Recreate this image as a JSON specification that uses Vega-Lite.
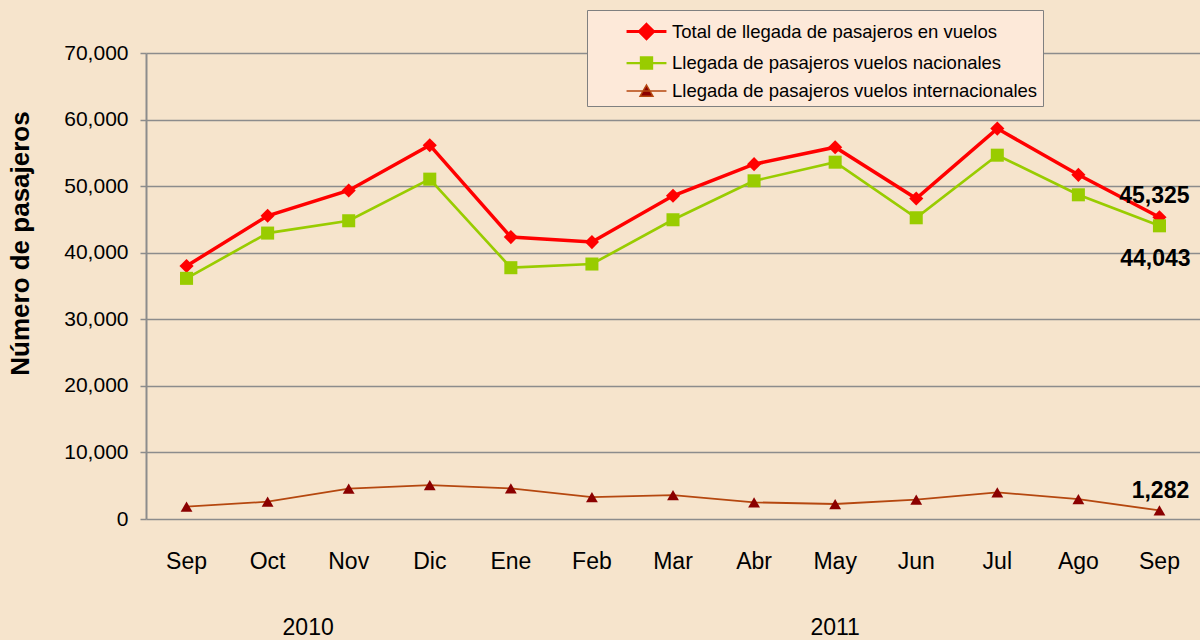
{
  "$schema": "https://vega.github.io/schema/vega-lite/v6.json",
  "width": 1054,
  "height": 466,
  "autosize": {"type": "none"},
  "padding": {"left": 146, "top": 53, "right": 0, "bottom": 121},
  "background": "#f6e4cc",
  "config": {
    "view": {"stroke": null},
    "font": "Liberation Sans",
    "text": {"font": "Liberation Sans", "color": "#000000"},
    "axisY": {
      "format": ",d",
      "grid": true, "gridColor": "#8c8c8c", "gridWidth": 1.5,
      "domain": true, "domainColor": "#8c8c8c", "domainWidth": 2,
      "ticks": true, "tickColor": "#8c8c8c", "tickSize": 6, "tickWidth": 1.5,
      "labelFont": "Liberation Sans", "labelFontSize": 21, "labelColor": "#000000", "labelPadding": 12,
      "titleFont": "Liberation Sans", "titleFontSize": 26, "titleFontWeight": "bold", "titleColor": "#000000",
      "titleAngle": -90, "titleX": -118, "titleY": 190, "titleAlign": "center", "titleBaseline": "alphabetic"
    }
  },
  "data": {
    "values": [
      {"i": 0, "mes": "Sep", "anio": "2010", "serie": "Total de llegada de pasajeros en vuelos", "valor": 38000},
      {"i": 1, "mes": "Oct", "anio": "2010", "serie": "Total de llegada de pasajeros en vuelos", "valor": 45550},
      {"i": 2, "mes": "Nov", "anio": "2010", "serie": "Total de llegada de pasajeros en vuelos", "valor": 49350},
      {"i": 3, "mes": "Dic", "anio": "2010", "serie": "Total de llegada de pasajeros en vuelos", "valor": 56150},
      {"i": 4, "mes": "Ene", "anio": "2011", "serie": "Total de llegada de pasajeros en vuelos", "valor": 42350},
      {"i": 5, "mes": "Feb", "anio": "2011", "serie": "Total de llegada de pasajeros en vuelos", "valor": 41600},
      {"i": 6, "mes": "Mar", "anio": "2011", "serie": "Total de llegada de pasajeros en vuelos", "valor": 48550},
      {"i": 7, "mes": "Abr", "anio": "2011", "serie": "Total de llegada de pasajeros en vuelos", "valor": 53300},
      {"i": 8, "mes": "May", "anio": "2011", "serie": "Total de llegada de pasajeros en vuelos", "valor": 55850},
      {"i": 9, "mes": "Jun", "anio": "2011", "serie": "Total de llegada de pasajeros en vuelos", "valor": 48150},
      {"i": 10, "mes": "Jul", "anio": "2011", "serie": "Total de llegada de pasajeros en vuelos", "valor": 58650},
      {"i": 11, "mes": "Ago", "anio": "2011", "serie": "Total de llegada de pasajeros en vuelos", "valor": 51700},
      {"i": 12, "mes": "Sep", "anio": "2011", "serie": "Total de llegada de pasajeros en vuelos", "valor": 45325},
      {"i": 0, "mes": "Sep", "anio": "2010", "serie": "Llegada de pasajeros vuelos nacionales", "valor": 36150},
      {"i": 1, "mes": "Oct", "anio": "2010", "serie": "Llegada de pasajeros vuelos nacionales", "valor": 42950},
      {"i": 2, "mes": "Nov", "anio": "2010", "serie": "Llegada de pasajeros vuelos nacionales", "valor": 44800},
      {"i": 3, "mes": "Dic", "anio": "2010", "serie": "Llegada de pasajeros vuelos nacionales", "valor": 51050},
      {"i": 4, "mes": "Ene", "anio": "2011", "serie": "Llegada de pasajeros vuelos nacionales", "valor": 37750},
      {"i": 5, "mes": "Feb", "anio": "2011", "serie": "Llegada de pasajeros vuelos nacionales", "valor": 38300},
      {"i": 6, "mes": "Mar", "anio": "2011", "serie": "Llegada de pasajeros vuelos nacionales", "valor": 44950},
      {"i": 7, "mes": "Abr", "anio": "2011", "serie": "Llegada de pasajeros vuelos nacionales", "valor": 50800},
      {"i": 8, "mes": "May", "anio": "2011", "serie": "Llegada de pasajeros vuelos nacionales", "valor": 53600},
      {"i": 9, "mes": "Jun", "anio": "2011", "serie": "Llegada de pasajeros vuelos nacionales", "valor": 45250},
      {"i": 10, "mes": "Jul", "anio": "2011", "serie": "Llegada de pasajeros vuelos nacionales", "valor": 54650},
      {"i": 11, "mes": "Ago", "anio": "2011", "serie": "Llegada de pasajeros vuelos nacionales", "valor": 48700},
      {"i": 12, "mes": "Sep", "anio": "2011", "serie": "Llegada de pasajeros vuelos nacionales", "valor": 44043},
      {"i": 0, "mes": "Sep", "anio": "2010", "serie": "Llegada de pasajeros vuelos internacionales", "valor": 1850},
      {"i": 1, "mes": "Oct", "anio": "2010", "serie": "Llegada de pasajeros vuelos internacionales", "valor": 2600},
      {"i": 2, "mes": "Nov", "anio": "2010", "serie": "Llegada de pasajeros vuelos internacionales", "valor": 4550},
      {"i": 3, "mes": "Dic", "anio": "2010", "serie": "Llegada de pasajeros vuelos internacionales", "valor": 5100},
      {"i": 4, "mes": "Ene", "anio": "2011", "serie": "Llegada de pasajeros vuelos internacionales", "valor": 4600},
      {"i": 5, "mes": "Feb", "anio": "2011", "serie": "Llegada de pasajeros vuelos internacionales", "valor": 3300},
      {"i": 6, "mes": "Mar", "anio": "2011", "serie": "Llegada de pasajeros vuelos internacionales", "valor": 3600},
      {"i": 7, "mes": "Abr", "anio": "2011", "serie": "Llegada de pasajeros vuelos internacionales", "valor": 2500},
      {"i": 8, "mes": "May", "anio": "2011", "serie": "Llegada de pasajeros vuelos internacionales", "valor": 2250},
      {"i": 9, "mes": "Jun", "anio": "2011", "serie": "Llegada de pasajeros vuelos internacionales", "valor": 2900},
      {"i": 10, "mes": "Jul", "anio": "2011", "serie": "Llegada de pasajeros vuelos internacionales", "valor": 4000},
      {"i": 11, "mes": "Ago", "anio": "2011", "serie": "Llegada de pasajeros vuelos internacionales", "valor": 3000},
      {"i": 12, "mes": "Sep", "anio": "2011", "serie": "Llegada de pasajeros vuelos internacionales", "valor": 1282}
    ]
  },
  "resolve": {"scale": {"shape": "independent", "fill": "independent", "stroke": "independent", "strokeWidth": "independent", "size": "independent"}},
  "layer": [
    {
      "mark": {"type": "line"},
      "encoding": {
        "x": {"field": "i", "type": "quantitative", "scale": {"domain": [-0.5, 12.5], "nice": false, "zero": false}, "axis": null},
        "y": {"field": "valor", "type": "quantitative", "scale": {"domain": [0, 70000], "nice": false}, "title": "Número de pasajeros", "axis": {"values": [0, 10000, 20000, 30000, 40000, 50000, 60000, 70000]}},
        "detail": {"field": "serie"},
        "stroke": {"field": "serie", "type": "nominal", "legend": null,
          "scale": {"domain": ["Total de llegada de pasajeros en vuelos", "Llegada de pasajeros vuelos nacionales", "Llegada de pasajeros vuelos internacionales"], "range": ["#ff0000", "#99cc00", "#b5470f"]}},
        "strokeWidth": {"field": "serie", "type": "nominal", "legend": null,
          "scale": {"domain": ["Total de llegada de pasajeros en vuelos", "Llegada de pasajeros vuelos nacionales", "Llegada de pasajeros vuelos internacionales"], "range": [3.5, 1.8, 1.8]}}
      }
    },
    {
      "mark": {"type": "point", "filled": true, "opacity": 1},
      "encoding": {
        "x": {"field": "i", "type": "quantitative", "scale": {"domain": [-0.5, 12.5], "nice": false, "zero": false}, "axis": null},
        "y": {"field": "valor", "type": "quantitative", "scale": {"domain": [0, 70000], "nice": false}, "title": "Número de pasajeros", "axis": {"values": [0, 10000, 20000, 30000, 40000, 50000, 60000, 70000]}},
        "shape": {"field": "serie", "type": "nominal", "legend": null,
          "scale": {"domain": ["Total de llegada de pasajeros en vuelos", "Llegada de pasajeros vuelos nacionales", "Llegada de pasajeros vuelos internacionales"], "range": ["diamond", "square", "triangle-up"]}},
        "fill": {"field": "serie", "type": "nominal", "legend": null,
          "scale": {"domain": ["Total de llegada de pasajeros en vuelos", "Llegada de pasajeros vuelos nacionales", "Llegada de pasajeros vuelos internacionales"], "range": ["#ff0000", "#99cc00", "#8b0000"]}},
        "size": {"field": "serie", "type": "nominal", "legend": null,
          "scale": {"domain": ["Total de llegada de pasajeros en vuelos", "Llegada de pasajeros vuelos nacionales", "Llegada de pasajeros vuelos internacionales"], "range": [200, 140, 180]}}
      }
    },
    {
      "transform": [{"filter": "datum.i == 12 && datum.serie == 'Total de llegada de pasajeros en vuelos'"}],
      "mark": {"type": "text", "fontSize": 23, "fontWeight": "bold", "align": "center", "baseline": "alphabetic", "dx": -5, "dy": -14},
      "encoding": {
        "x": {"field": "i", "type": "quantitative", "scale": {"domain": [-0.5, 12.5], "nice": false, "zero": false}, "axis": null},
        "y": {"field": "valor", "type": "quantitative", "scale": {"domain": [0, 70000], "nice": false}, "title": "Número de pasajeros", "axis": {"values": [0, 10000, 20000, 30000, 40000, 50000, 60000, 70000]}},
        "text": {"field": "valor", "type": "quantitative", "format": ",d"}
      }
    },
    {
      "transform": [{"filter": "datum.i == 12 && datum.serie == 'Llegada de pasajeros vuelos nacionales'"}],
      "mark": {"type": "text", "fontSize": 23, "fontWeight": "bold", "align": "center", "baseline": "alphabetic", "dx": -4, "dy": 40},
      "encoding": {
        "x": {"field": "i", "type": "quantitative", "scale": {"domain": [-0.5, 12.5], "nice": false, "zero": false}, "axis": null},
        "y": {"field": "valor", "type": "quantitative", "scale": {"domain": [0, 70000], "nice": false}, "title": "Número de pasajeros", "axis": {"values": [0, 10000, 20000, 30000, 40000, 50000, 60000, 70000]}},
        "text": {"field": "valor", "type": "quantitative", "format": ",d"}
      }
    },
    {
      "transform": [{"filter": "datum.i == 12 && datum.serie == 'Llegada de pasajeros vuelos internacionales'"}],
      "mark": {"type": "text", "fontSize": 23, "fontWeight": "bold", "align": "center", "baseline": "alphabetic", "dx": 1, "dy": -12},
      "encoding": {
        "x": {"field": "i", "type": "quantitative", "scale": {"domain": [-0.5, 12.5], "nice": false, "zero": false}, "axis": null},
        "y": {"field": "valor", "type": "quantitative", "scale": {"domain": [0, 70000], "nice": false}, "title": "Número de pasajeros", "axis": {"values": [0, 10000, 20000, 30000, 40000, 50000, 60000, 70000]}},
        "text": {"field": "valor", "type": "quantitative", "format": ",d"}
      }
    },
    {
      "transform": [{"filter": "datum.serie == 'Total de llegada de pasajeros en vuelos'"}],
      "mark": {"type": "text", "fontSize": 23, "align": "center", "baseline": "alphabetic", "dy": 50},
      "encoding": {
        "x": {"field": "i", "type": "quantitative", "scale": {"domain": [-0.5, 12.5], "nice": false, "zero": false}, "axis": null},
        "y": {"datum": 0, "type": "quantitative", "scale": {"domain": [0, 70000], "nice": false}, "title": "Número de pasajeros", "axis": {"values": [0, 10000, 20000, 30000, 40000, 50000, 60000, 70000]}},
        "text": {"field": "mes", "type": "nominal"}
      }
    },
    {
      "transform": [{"aggregate": [{"op": "mean", "field": "i", "as": "centro"}], "groupby": ["anio"]}],
      "mark": {"type": "text", "fontSize": 23, "align": "center", "baseline": "alphabetic", "dy": 116},
      "encoding": {
        "x": {"field": "centro", "type": "quantitative", "scale": {"domain": [-0.5, 12.5], "nice": false, "zero": false}, "axis": null},
        "y": {"datum": 0, "type": "quantitative", "scale": {"domain": [0, 70000], "nice": false}, "title": "Número de pasajeros", "axis": {"values": [0, 10000, 20000, 30000, 40000, 50000, 60000, 70000]}},
        "text": {"field": "anio", "type": "nominal"}
      }
    },
    {
      "transform": [{"filter": "datum.i < 0"}],
      "mark": {"type": "point", "filled": true, "size": 900, "opacity": 1},
      "encoding": {
        "shape": {"field": "serie", "type": "nominal",
          "scale": {"domain": ["Total de llegada de pasajeros en vuelos", "Llegada de pasajeros vuelos nacionales", "Llegada de pasajeros vuelos internacionales"],
            "range": ["M-1.33,0L1.33,0M0,-0.47L0.47,0L0,0.47L-0.47,0Z", "M-1.33,0L1.33,0M-0.37,-0.37L0.37,-0.37L0.37,0.37L-0.37,0.37Z", "M-1.33,0L1.33,0M0,-0.4L0.43,0.35L-0.43,0.35Z"]},
          "legend": {
            "title": null, "orient": "none", "legendX": 441, "legendY": -43,
            "padding": 5, "symbolOffset": 38, "labelOffset": 9, "symbolSize": 900,
            "labelFont": "Liberation Sans", "labelFontSize": 18.5, "labelColor": "#000000", "labelLimit": 600,
            "fillColor": "#fde9d9", "strokeColor": "#808080", "rowPadding": 1.5
          }},
        "fill": {"field": "serie", "type": "nominal",
          "scale": {"domain": ["Total de llegada de pasajeros en vuelos", "Llegada de pasajeros vuelos nacionales", "Llegada de pasajeros vuelos internacionales"], "range": ["#ff0000", "#99cc00", "#8b0000"]}},
        "stroke": {"field": "serie", "type": "nominal",
          "scale": {"domain": ["Total de llegada de pasajeros en vuelos", "Llegada de pasajeros vuelos nacionales", "Llegada de pasajeros vuelos internacionales"], "range": ["#ff0000", "#99cc00", "#b5470f"]}},
        "strokeWidth": {"field": "serie", "type": "nominal",
          "scale": {"domain": ["Total de llegada de pasajeros en vuelos", "Llegada de pasajeros vuelos nacionales", "Llegada de pasajeros vuelos internacionales"], "range": [3, 1.5, 1.5]}}
      }
    }
  ]
}
